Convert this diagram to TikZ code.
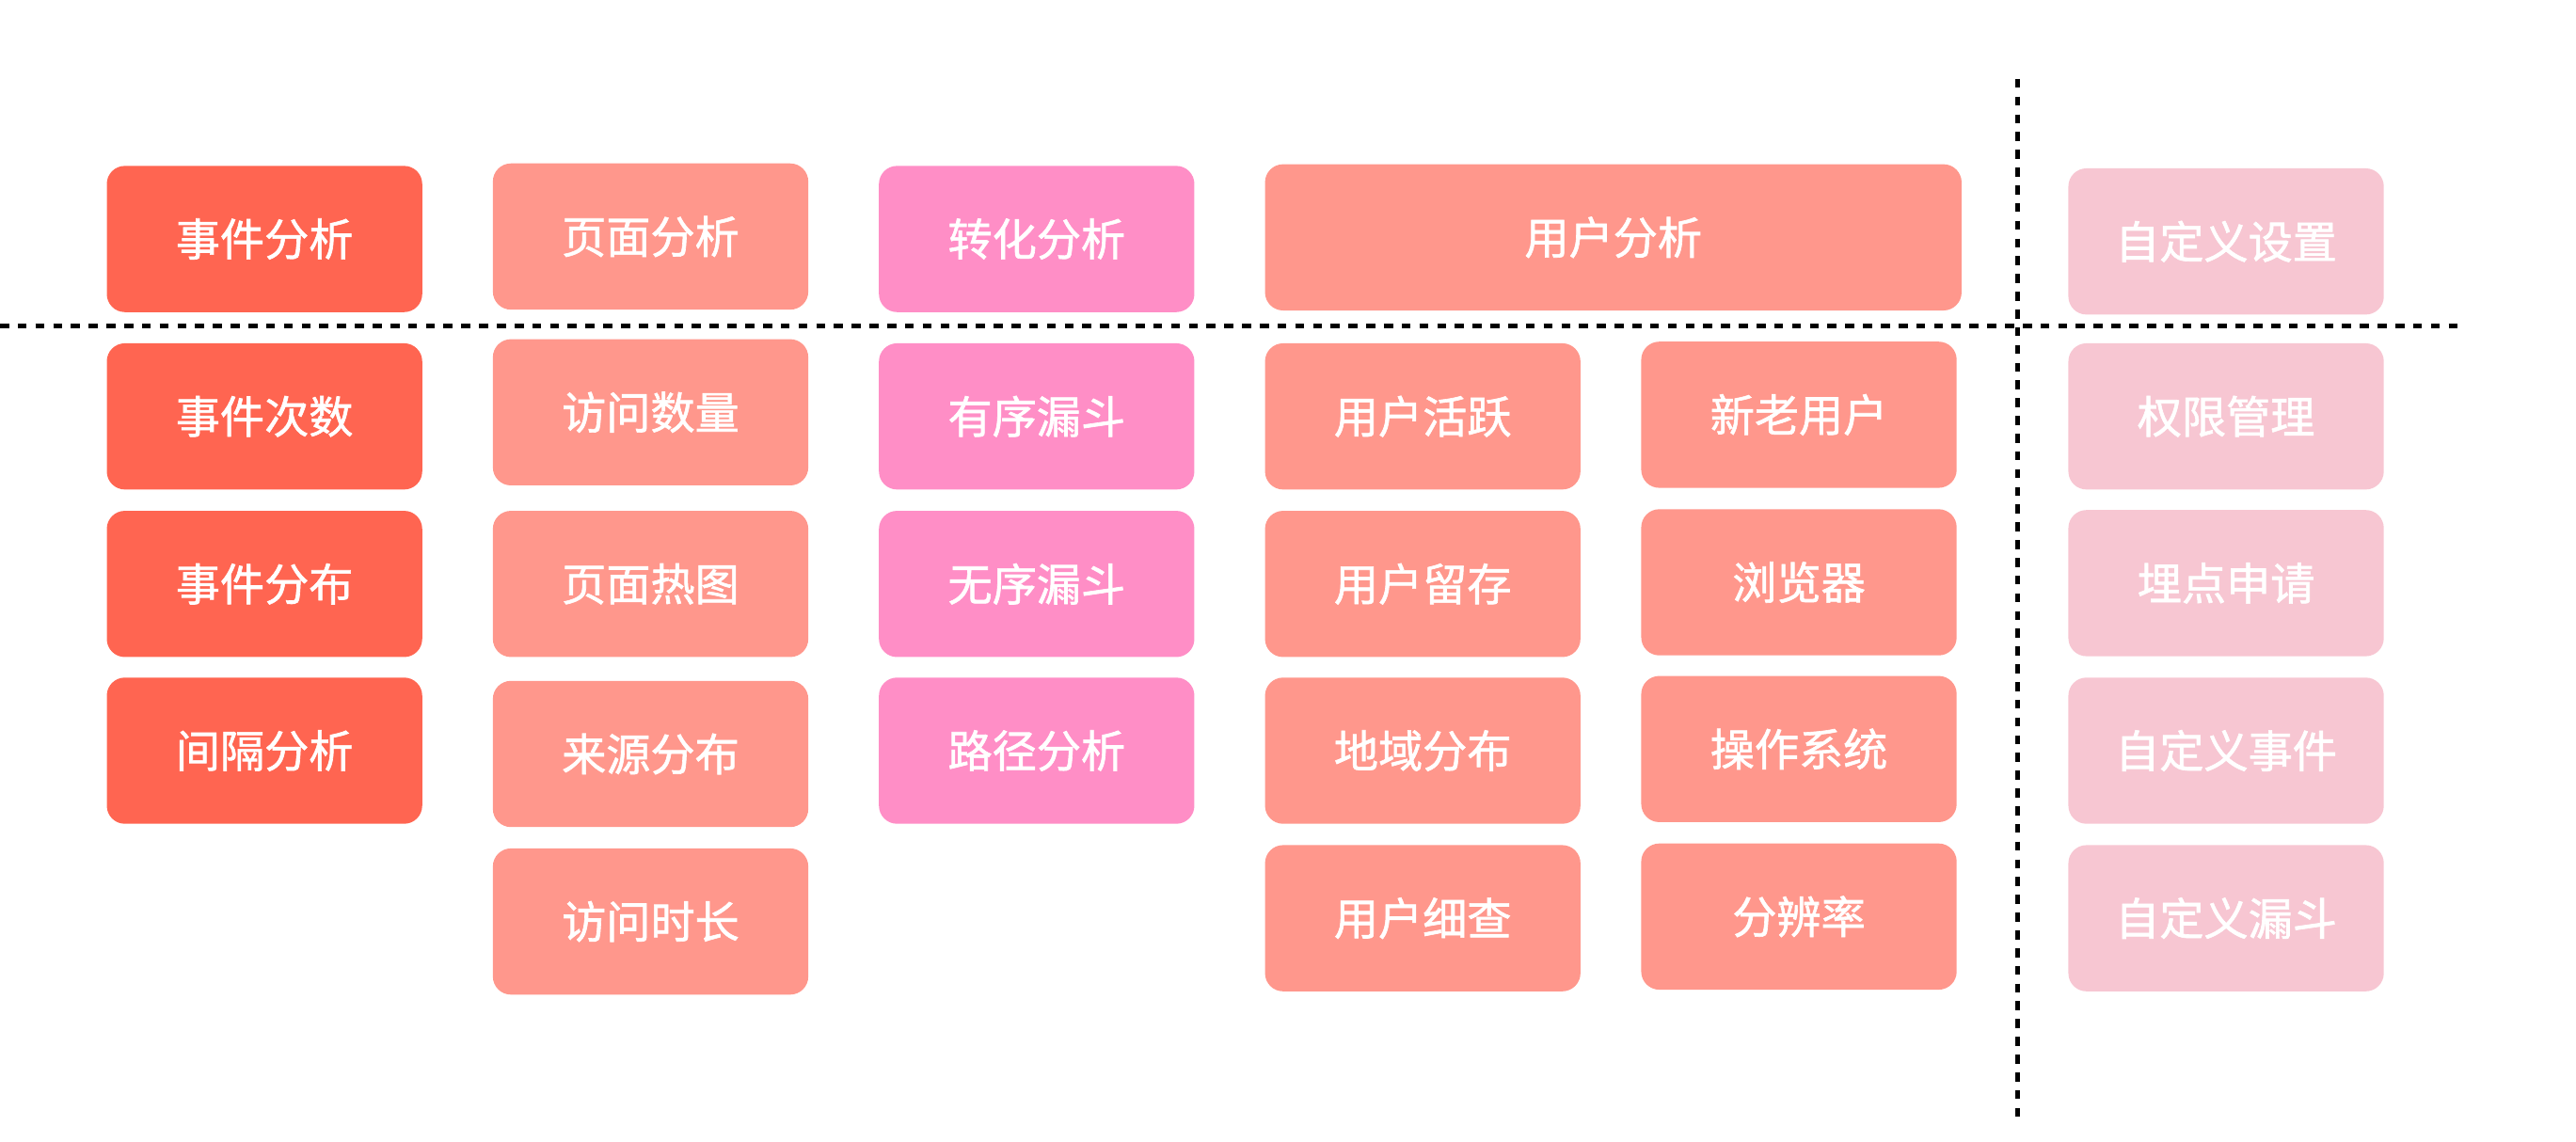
\documentclass[tikz,border=0pt]{standalone}
\usepackage{fontspec}
\newfontfamily\cjk[FakeBold=1.3]{Noto Sans CJK SC}
\definecolor{cA}{HTML}{FF6551}
\definecolor{cB}{HTML}{FF978C}
\definecolor{cC}{HTML}{FF8EC6}
\definecolor{cD}{HTML}{F7C6D2}
\tikzset{
  card/.style={rounded corners=11pt, minimum width=192pt, minimum height=89pt, inner sep=0pt,
    text=white, font=\cjk\fontsize{27}{30}\selectfont},
  kA/.style={card, fill=cA},
  kB/.style={card, fill=cB},
  kC/.style={card, fill=cC},
  kD/.style={card, fill=cD},
  sep/.style={line width=2.8pt, dash pattern=on 5.5pt off 5.3pt}
}
\begin{document}
\begin{tikzpicture}[x=1pt,y=-1pt]
\useasboundingbox (0,0) rectangle (1568,695);
% column 1
\node[kA] (a0) at (161,145.5) {事件分析};
\node[kA] (a1) at (161,253.5) {事件次数};
\node[kA] (a2) at (161,355.5) {事件分布};
\node[kA] (a3) at (161,457) {间隔分析};
% column 2
\node[kB] (b0) at (396,144) {页面分析};
\node[kB] (b1) at (396,251) {访问数量};
\node[kB] (b2) at (396,355.5) {页面热图};
\node[kB] (b3) at (396,459) {来源分布};
\node[kB] (b4) at (396,561) {访问时长};
% column 3
\node[kC] (c0) at (631,145.5) {转化分析};
\node[kC] (c1) at (631,253.5) {有序漏斗};
\node[kC] (c2) at (631,355.5) {无序漏斗};
\node[kC] (c3) at (631,457) {路径分析};
% column 4/5
\node[kB, minimum width=424pt] (d0) at (982,144.5) {用户分析};
\node[kB] (d1) at (866,253.5) {用户活跃};
\node[kB] (d2) at (866,355.5) {用户留存};
\node[kB] (d3) at (866,457) {地域分布};
\node[kB] (d4) at (866,559) {用户细查};
\node[kB] (e1) at (1095,252.5) {新老用户};
\node[kB] (e2) at (1095,354.5) {浏览器};
\node[kB] (e3) at (1095,456) {操作系统};
\node[kB] (e4) at (1095,558) {分辨率};
% column 6
\node[kD] (f0) at (1355,147) {自定义设置};
\node[kD] (f1) at (1355,253.5) {权限管理};
\node[kD] (f2) at (1355,355) {埋点申请};
\node[kD] (f3) at (1355,457) {自定义事件};
\node[kD] (f4) at (1355,559) {自定义漏斗};
% separators
\coordinate (hL) at (0,198.5);
\coordinate (hR) at (1497,198.5);
\coordinate (vT) at (1228,48);
\coordinate (vB) at (1228,681);
\draw[sep] (hL) -- (hR);
\draw[sep] (vT) -- (vB);
\end{tikzpicture}
\end{document}
